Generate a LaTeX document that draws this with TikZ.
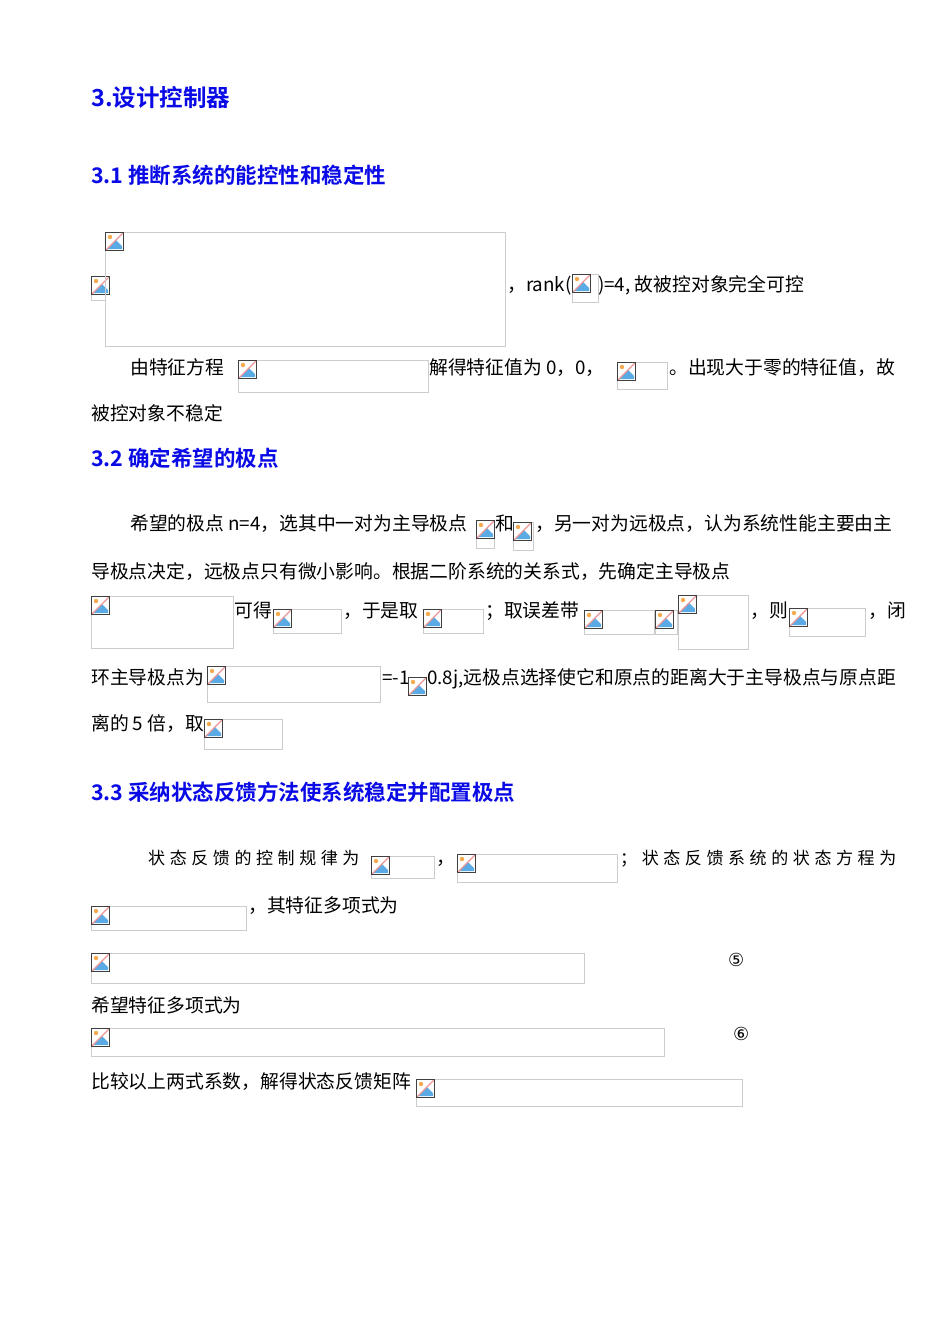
\documentclass[tikz,border=0pt]{standalone}
\usepackage{fontspec}
\setmainfont{Liberation Serif}
\newfontfamily\cjk{Noto Sans CJK SC}
\newfontfamily\cjksp[LetterSpace=27]{Noto Sans CJK SC}
\newfontfamily\cjkb{Noto Sans CJK SC Bold}
\newfontfamily\cjksym{DejaVu Sans}
\definecolor{hblue}{RGB}{10,10,230}
\definecolor{icb}{RGB}{90,170,230}
\definecolor{icp}{RGB}{235,150,150}
\definecolor{ico}{RGB}{245,170,80}
\tikzset{
  phbox/.style={draw=black!20,line width=0.8pt},
  txt/.style={anchor=base west,inner sep=0pt,font=\cjk\fontsize{18.8}{18.8}\selectfont},
  txtsp/.style={anchor=base west,inner sep=0pt,font=\cjksp\fontsize{17}{17}\selectfont},
  h1/.style={anchor=base west,inner sep=0pt,text=hblue,font=\cjkb\fontsize{23.5}{23.5}\selectfont},
  h2/.style={anchor=base west,inner sep=0pt,text=hblue,font=\cjkb\fontsize{21.5}{21.5}\selectfont},
}
\newcommand{\myicon}[2]{%
  \fill[white] (#1,-#2) rectangle ++(19,-19);
  \fill[icb] (#1+2,-#2-17) -- (#1+11,-#2-8) -- (#1+17,-#2-14) -- (#1+17,-#2-17) -- cycle;
  \fill[ico] (#1+5,-#2-5) circle (2.2);
  \draw[icp,line width=1.3pt] (#1+1,-#2-18) -- (#1+18,-#2-1);
  \draw[black!75,line width=1pt] (#1+0.5,-#2-0.5) rectangle ++(18,-18);}
\newcommand{\ph}[4]{%
  \draw[phbox] (#1,-#2) rectangle ++(#3,-#4);
  \myicon{#1}{#2}}
\begin{document}
\begin{tikzpicture}[x=1pt,y=1pt]
\useasboundingbox[fill=white] (0,0) rectangle (950,-1344);
\node[h1] (t1) at (91,-106) {3.设计控制器};
\node[h2] (t2) at (91,-183) {3.1 推断系统的能控性和稳定性};
\ph{91}{276}{14}{24}
\ph{105}{232}{400}{114}
\node[txt] (a1) at (507,-291) {，rank(};
\ph{572}{274}{26}{28}
\node[txt] (a2) at (598,-291) {)=4, 故被控对象完全可控};
\node[txt] (b1) at (130,-374) {由特征方程};
\ph{238}{360}{190}{32}
\node[txt] (b2) at (429,-374) {解得特征值为 0，0，};
\ph{617}{362}{50}{27}
\node[txt] (b3) at (669,-374) {。出现大于零的特征值，故};
\node[txt] (b4) at (91,-420) {被控对象不稳定};
\node[h2] (t3) at (91,-466) {3.2 确定希望的极点};
\node[txt] (c1) at (130,-530) {希望的极点 n=4，选其中一对为主导极点};
\ph{476}{520}{18}{28}
\node[txt] (c2) at (495,-530) {和};
\ph{513}{522}{20}{28}
\node[txt] (c3) at (535,-530) {，另一对为远极点，认为系统性能主要由主};
\node[txt] (c4) at (91,-578) {导极点决定，远极点只有微小影响。根据二阶系统的关系式，先确定主导极点};
\ph{91}{596}{142}{52}
\node[txt] (d1) at (234,-617) {可得};
\ph{273}{609}{68}{24}
\node[txt] (d2) at (343,-617) {，于是取};
\ph{423}{609}{60}{24}
\node[txt] (d3) at (485,-617) {；取误差带};
\ph{584}{610}{70}{24}
\ph{655}{610}{22}{24}
\ph{678}{595}{70}{54}
\node[txt] (d4) at (750,-617) {，则};
\ph{789}{608}{76}{28}
\node[txt] (d5) at (868,-617) {，闭};
\node[txt] (e1) at (91,-684) {环主导极点为};
\ph{207}{666}{173}{36}
\node[txt] (e2) at (382,-684) {=-1};
\ph{408}{677}{18}{18}
\node[txt] (e3) at (427,-684) {0.8j,远极点选择使它和原点的距离大于主导极点与原点距};
\node[txt] (e4) at (91,-730) {离的 5 倍，取};
\ph{204}{719}{78}{30}
\node[h2] (t4) at (91,-800) {3.3 采纳状态反馈方法使系统稳定并配置极点};
\node[txtsp] (f1) at (148,-864) {状态反馈的控制规律为};
\ph{371}{856}{63}{22}
\node[txt] (f2) at (436,-864) {，};
\ph{457}{854}{160}{28}
\node[txtsp] (f3) at (620,-864) {；状态反馈系统的状态方程为};
\ph{91}{906}{155}{24}
\node[txt] (g1) at (248,-912) {，其特征多项式为};
\ph{91}{953}{493}{30}
\node[anchor=base west,inner sep=0pt,font=\cjksym\fontsize{18}{18}\selectfont] (g2) at (728,-966) {⑤};
\node[txt] (g3) at (91,-1012) {希望特征多项式为};
\ph{91}{1028}{573}{28}
\node[anchor=base west,inner sep=0pt,font=\cjksym\fontsize{18}{18}\selectfont] (g4) at (733,-1040) {⑥};
\node[txt] (g5) at (91,-1088) {比较以上两式系数，解得状态反馈矩阵};
\ph{416}{1079}{326}{27}
\end{tikzpicture}
\end{document}
